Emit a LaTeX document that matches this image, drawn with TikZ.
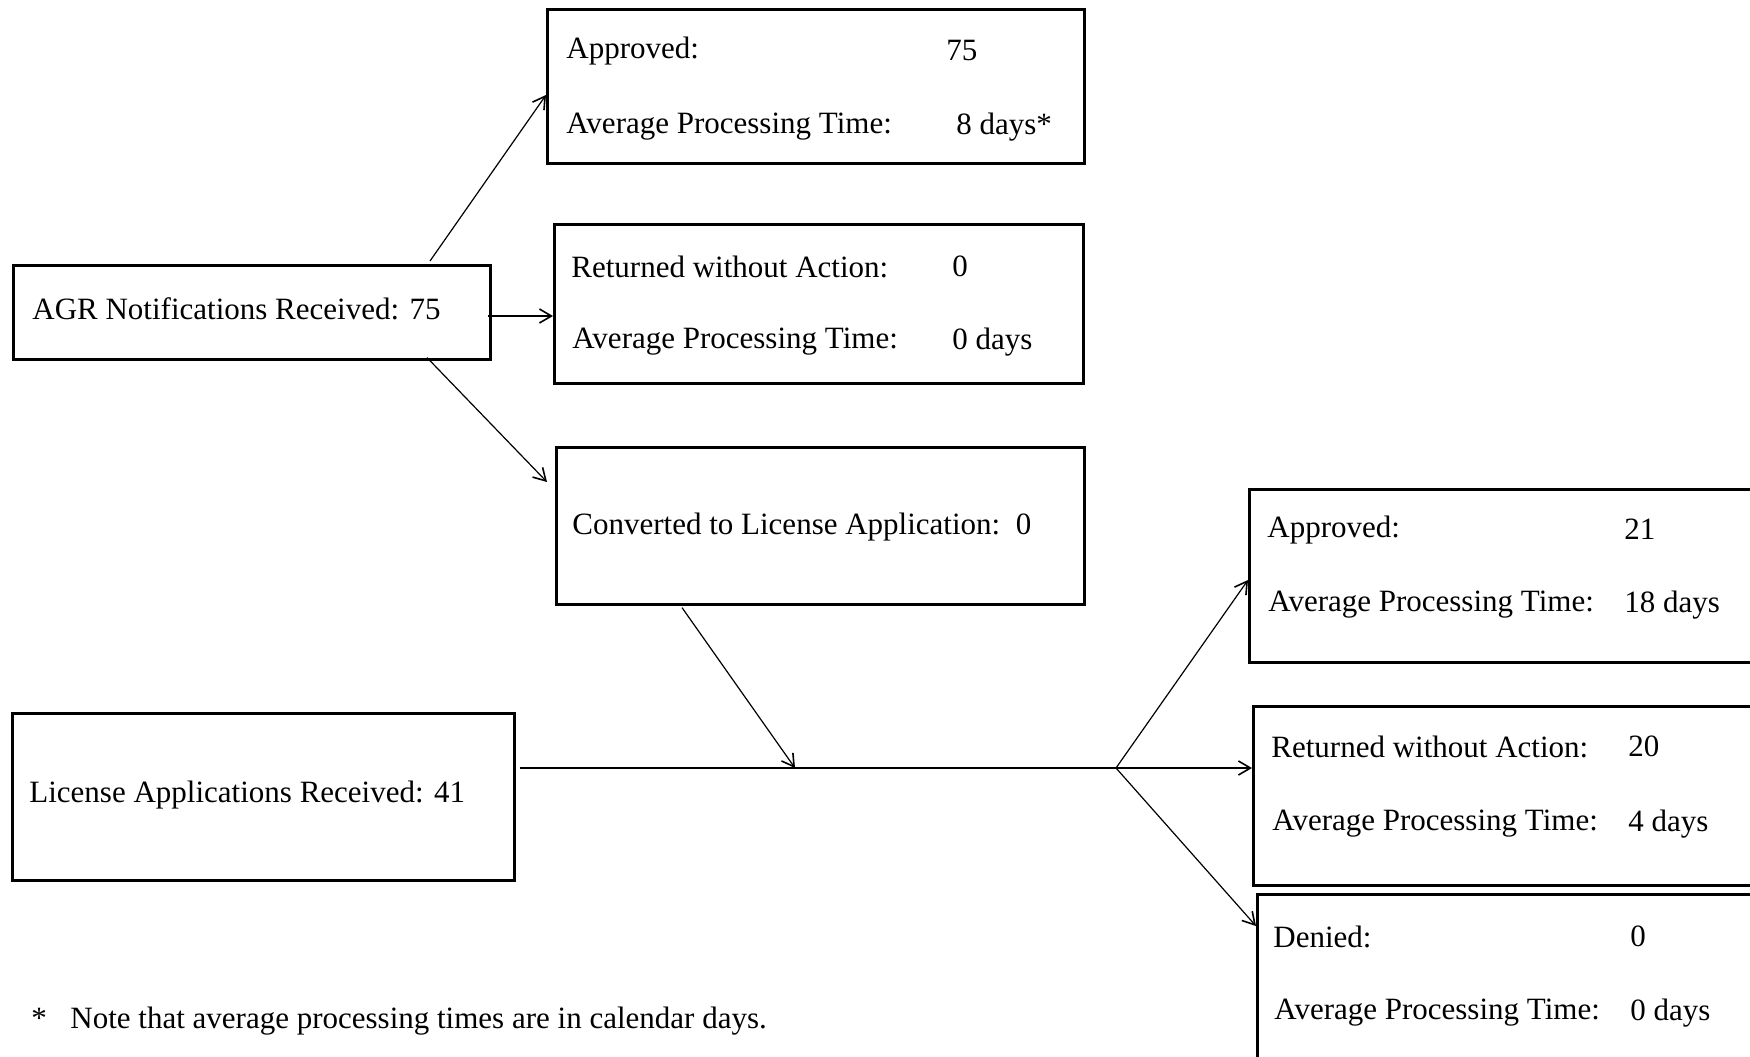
\documentclass[tikz,border=0pt]{standalone}
\usepackage{fontspec}
\setmainfont{Liberation Serif}
\usetikzlibrary{arrows.meta,calc}
\begin{document}
\begin{tikzpicture}[x=0.5pt,y=-0.5pt,
  box/.style={draw,line width=1.3pt,rectangle,inner sep=0pt,anchor=north west},
  conn/.style={line width=0.6pt,-{Straight Barb[length=6pt,width=7pt,line width=0.8pt]}},
  plain/.style={line width=0.6pt},
  txt/.style={anchor=west,inner sep=0pt,yshift=-1.8pt,font=\fontsize{15.5}{18}\selectfont},
  notetxt/.style={anchor=base west,inner sep=0pt,font=\fontsize{15.5}{18}\selectfont}]
\useasboundingbox (0,0) rectangle (1750,1056);
\clip (0,0) rectangle (1750,1056);
\fill[white] (0,0) rectangle (1750,1056);

% boxes
\node[box,minimum width=238.5pt,minimum height=47pt] (agr) at (12,264) {};
\node[box,minimum width=268.5pt,minimum height=77pt] (app1) at (546,8) {};
\node[box,minimum width=264.5pt,minimum height=79.5pt] (ret1) at (553,223) {};
\node[box,minimum width=264pt,minimum height=78.5pt] (conv) at (555,446) {};
\node[box,minimum width=251pt,minimum height=83.5pt] (lic) at (11,712) {};
\node[box,minimum width=300pt,minimum height=86.5pt] (app2) at (1248,488) {};
\node[box,minimum width=300pt,minimum height=89.5pt] (ret2) at (1252,705) {};
\node[box,minimum width=300pt,minimum height=100pt] (den) at (1256,893) {};

% texts
\node[txt] (tagr) at (32,305) {AGR Notifications Received: 75};
\node[txt] (ta1a) at (566,47) {Approved:};
\node[txt] (ta1b) at (946,47) {75};
\node[txt] (ta1c) at (566,123) {Average Processing Time:};
\node[txt] (ta1d) at (956,123) {8 days*};
\node[txt] (tr1a) at (571,263) {Returned without Action:};
\node[txt] (tr1b) at (952,263) {0};
\node[txt] (tr1c) at (572,338) {Average Processing Time:};
\node[txt] (tr1d) at (952,338) {0 days};
\node[txt] (tconv) at (572,523) {Converted to License Application:\ \ 0};
\node[txt] (tlic) at (29,791) {License Applications Received: 41};
\node[txt] (ta2a) at (1267,526) {Approved:};
\node[txt] (ta2b) at (1624,526) {21};
\node[txt] (ta2c) at (1268,601) {Average Processing Time:};
\node[txt] (ta2d) at (1624,601) {18 days};
\node[txt] (tr2a) at (1271,743) {Returned without Action:};
\node[txt] (tr2b) at (1628,743) {20};
\node[txt] (tr2c) at (1272,820) {Average Processing Time:};
\node[txt] (tr2d) at (1628,820) {4 days};
\node[txt] (tda) at (1273,933) {Denied:};
\node[txt] (tdb) at (1630,933) {0};
\node[txt] (tdc) at (1274,1009) {Average Processing Time:};
\node[txt] (tdd) at (1630,1009) {0 days};
\node[notetxt] (tstar) at (31,1028) {*};
\node[notetxt] (tnote) at (70,1028) {Note that average processing times are in calendar days.};

% junction points
\coordinate (j) at (1116,768);
\coordinate (m) at (795,768);

% connectors
\draw[conn] ($(agr.north west)+(418,-3)$) -- ($(app1.north west)+(0,87)$);
\draw[conn] ($(agr.north east)+(-4,52)$) -- ($(ret1.north west)+(0,93)$);
\draw[conn] ($(agr.south west)+(415,-3)$) -- ($(conv.north west)+(-8,36)$);
\draw[conn] ($(conv.south west)+(127,2)$) -- (m);
\draw[plain] ($(lic.east |- j)+(4,0)$) -- (j);
\draw[conn] (j) -- ($(app2.north west)+(0,92)$);
\draw[conn] (j) -- (ret2.west |- j);
\draw[conn] (j) -- ($(den.north west)+(0,33)$);
\end{tikzpicture}
\end{document}
